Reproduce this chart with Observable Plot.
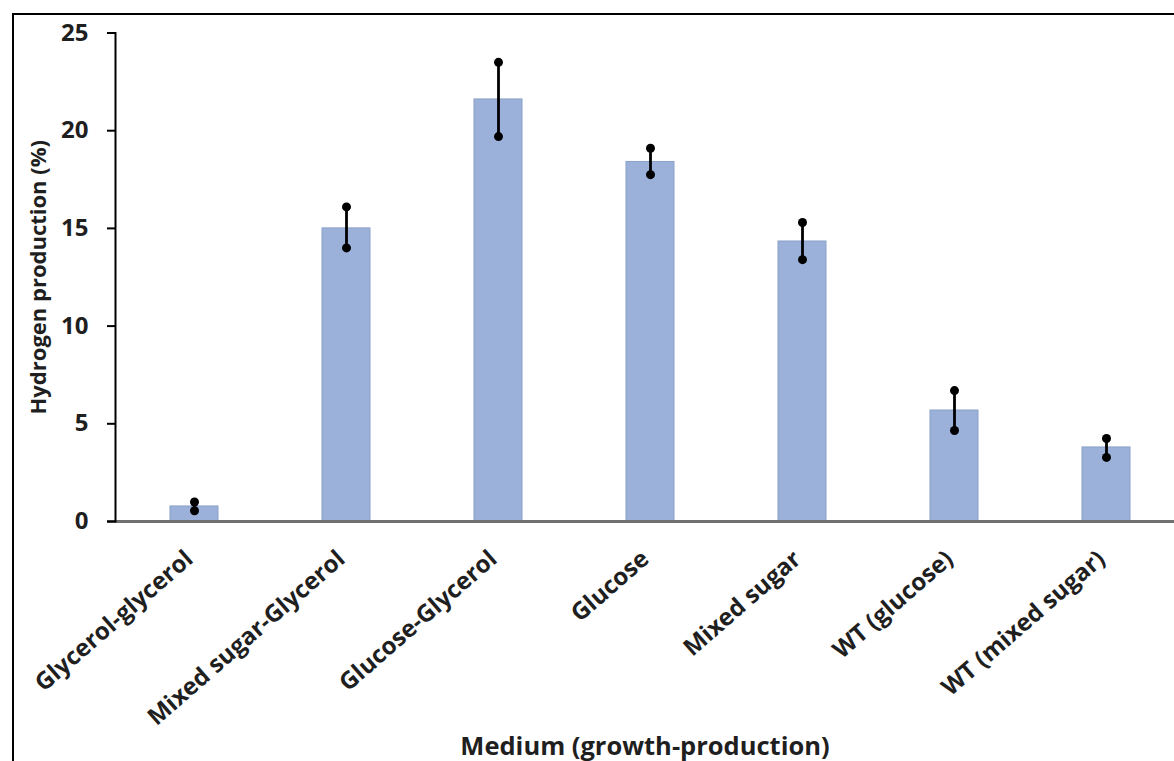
<!DOCTYPE html>
<html><head><meta charset="utf-8">
<script src="https://cdn.jsdelivr.net/npm/d3@7"></script>
<script src="https://cdn.jsdelivr.net/npm/@observablehq/plot@0.6"></script>
<style>
body{margin:0;background:#fff;}
#wrap{position:relative;width:1174px;height:761px;overflow:hidden;background:#fff;}
#wrap svg{position:absolute;left:0;top:0;}
#border{position:absolute;left:12px;top:13px;right:-10px;bottom:-10px;border-left:2.5px solid #000;border-top:2.5px solid #000;pointer-events:none;}
</style></head><body><div id="wrap"><div id="border"></div></div>
<script>
const media = ["Glycerol-glycerol", "Mixed sugar-Glycerol", "Glucose-Glycerol", "Glucose", "Mixed sugar", "WT (glucose)", "WT (mixed sugar)"];
const production = [0.77, 15.0, 21.6, 18.4, 14.33, 5.68, 3.79];
const errLow = [0.55, 14.0, 19.7, 17.75, 13.4, 4.66, 3.28];
const errHigh = [1.0, 16.1, 23.5, 19.1, 15.3, 6.7, 4.25];
const yTicks = [0, 5, 10, 15, 20, 25];
const xTitle = "Medium (growth-production)";
const yTitle = "Hydrogen production (%)";

const data = media.map((m, i) => ({medium: m, value: production[i], low: errLow[i], high: errHigh[i]}));

const chart = Plot.plot({
  width: 1174, height: 761,
  marginTop: 32.5, marginBottom: 240, marginLeft: 115, marginRight: 0,
  style: {fontFamily: "'Open Sans', sans-serif", fontWeight: 700, color: "#1f1f1f", background: "transparent", overflow: "visible"},
  x: {domain: media, range: [115, 1184.5], paddingInner: 0.685, paddingOuter: 0.347, label: null},
  y: {domain: [0, 25], ticks: yTicks, label: null},
  marks: [
    Plot.barY(data, {x: "medium", y: "value", fill: "#9bb1d9", stroke: "#8aa0c9", strokeWidth: 1}),
    Plot.ruleY([0], {stroke: "#707070", strokeWidth: 3, insetLeft: -8}),
    Plot.ruleX(data, {x: "medium", y1: "low", y2: "high", stroke: "#000", strokeWidth: 2.8}),
    Plot.dot(data, {x: "medium", y: "low", r: 4.5, fill: "#000"}),
    Plot.dot(data, {x: "medium", y: "high", r: 4.5, fill: "#000"}),
    Plot.frame({anchor: "left", stroke: "#000", strokeWidth: 2}),
    Plot.axisY({ticks: yTicks, tickSize: 8, tickPadding: 19, fontSize: 24, label: null, strokeWidth: 2, stroke: "#000"}),
    Plot.axisX({tickSize: 0, tickRotate: -41, tickPadding: 34, dx: -5, fontSize: 24, label: null}),
    Plot.text([xTitle], {frameAnchor: "bottom", dy: 233, lineAnchor: "bottom", fontSize: 25.5, fill: "#1f1f1f"}),
    Plot.text([yTitle], {frameAnchor: "left", dx: -77, rotate: -90, textAnchor: "middle", fontSize: 22, fill: "#1f1f1f"})
  ]
});
document.getElementById("wrap").prepend(chart);
</script>
</body></html>
